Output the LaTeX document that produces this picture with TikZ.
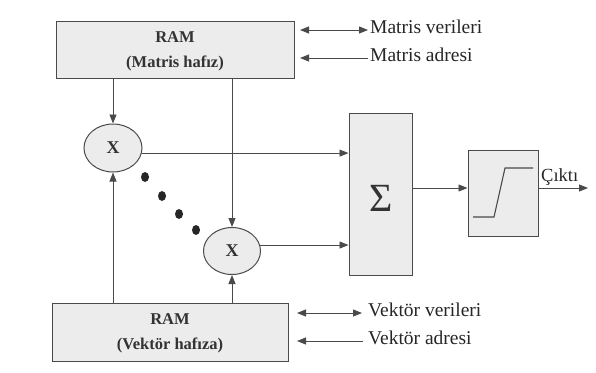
\documentclass[tikz,border=0pt]{standalone}
\usepackage{fontspec}
\setmainfont{Liberation Serif}
\usetikzlibrary{arrows.meta,calc,shapes.geometric}
\definecolor{ln}{HTML}{4A4A4A}
\definecolor{bx}{HTML}{ECECEC}
\begin{document}
\begin{tikzpicture}[x=1pt,y=-1pt,
  box/.style={draw=ln,line width=1pt,fill=bx,inner sep=0pt},
  mult/.style={ellipse,draw=ln,line width=1pt,fill=bx,inner sep=0pt,font=\fontsize{18}{20}\selectfont\bfseries,text=black!80},
  lbl/.style={anchor=base west,inner sep=0pt,font=\fontsize{19.5}{22}\selectfont,text=black!85},
  ramtxt/.style={align=center,font=\fontsize{16.5}{25}\selectfont\bfseries,text=black!80},
  conn/.style={draw=ln,line width=0.9pt},
  arr/.style={conn,-{Triangle[length=9pt,width=7pt]}},
  darr/.style={conn,{Triangle[length=9pt,width=7pt]}-{Triangle[length=9pt,width=7pt]}},
  larr/.style={conn,{Triangle[length=9pt,width=7pt]}-}]
\useasboundingbox (0,0) rectangle (596,372);
\fill[white] (0,0) rectangle (596,372);
% boxes
\node[box,minimum width=238pt,minimum height=57pt] (topram) at (175,49.5) {};
\node[ramtxt] (topt) at (175,51) {RAM\\(Matris hafız)};
\node[box,minimum width=236pt,minimum height=58pt] (botram) at (170,332) {};
\node[ramtxt] (bott) at (170,333) {RAM\\(Vektör hafıza)};
\node[mult,minimum width=58pt,minimum height=48pt] (e1) at (113,148) {X};
\node[mult,minimum width=57pt,minimum height=47pt] (e2) at (232,251) {X};
\node[box,minimum width=63pt,minimum height=162pt] (sig) at (380.5,194) {};
\node[inner sep=0pt,font=\fontsize{40}{40}\selectfont,text=black!80] (sigt) at (381,198) {Σ};
\node[box,minimum width=70pt,minimum height=86pt] (act) at (503,193) {};
% step function
\draw[conn,line width=1.1pt] ($(act.center)+(-30,24)$) -- ++(21,0) -- ++(11,-49) -- ++(28,0);
% dots
\foreach \p in {(145,177),(162,196),(179,214),(196,230)}
  \fill[black!85] \p ellipse (4pt and 5pt);
% vertical connectors
\draw[arr] (topram.south -| e1.north) -- (e1.north);
\draw[arr] (topram.south -| e2.north) -- (e2.north);
\draw[arr] (botram.north -| e1.south) -- (e1.south);
\draw[arr] (botram.north -| e2.south) -- (e2.south);
% to sum
\draw[arr] (e1.-10) -- (e1.-10 -| sig.west);
\draw[arr] (e2.12) -- (e2.12 -| sig.west);
\coordinate (sy) at (0,188);
\draw[arr] (sig.east |- sy) -- (act.west |- sy);
\coordinate (out) at (588,188);
\draw[arr] (act.east |- sy) -- (out);
\node[lbl,font=\fontsize{18.5}{20}\selectfont] (cikti) at (541,181) {Çıktı};
% memory labels
\coordinate (mv1) at (300,30); \coordinate (mv2) at (368,30);
\coordinate (ma1) at (300,58); \coordinate (ma2) at (368,58);
\draw[darr] (mv1) -- (mv2);
\draw[larr] (ma1) -- (ma2);
\node[lbl] (mvt) at (370,33) {Matris verileri};
\node[lbl] (mat) at (370,61) {Matris adresi};
\coordinate (vv1) at (297,313); \coordinate (vv2) at (362,313);
\coordinate (va1) at (297,341); \coordinate (va2) at (363,341);
\draw[darr] (vv1) -- (vv2);
\draw[larr] (va1) -- (va2);
\node[lbl] (vvt) at (368,316) {Vektör verileri};
\node[lbl] (vat) at (368,344) {Vektör adresi};
\end{tikzpicture}
\end{document}
